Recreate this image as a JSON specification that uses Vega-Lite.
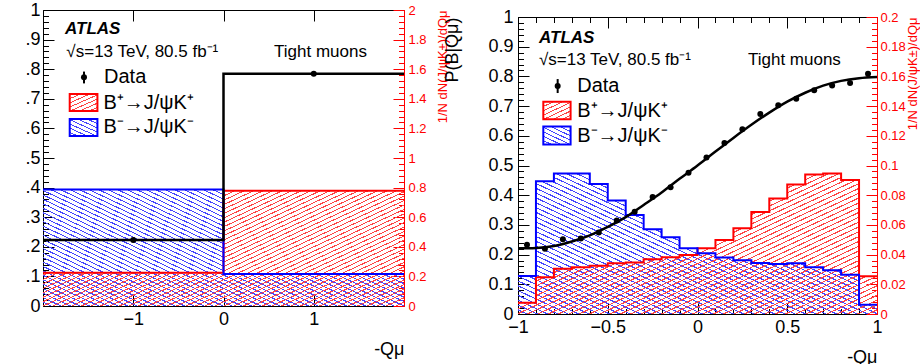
{
"$schema":"https://vega.github.io/schema/vega-lite/v6.json",
"padding":{"left":24,"top":1,"right":0,"bottom":0},
"background":"white",
"config":{
 "font":"Liberation Sans",
 "view":{"stroke":null},
 "axis":{"zindex":1,"grid":false,"domainColor":"black","domainWidth":1,"tickColor":"black","tickWidth":1,"labelFontSize":18,"labelColor":"black","labelOverlap":false,"labelFlush":false,"labelBound":false,"titleFontWeight":"normal","titleColor":"black","titleFontSize":18}
},
"datasets":{
 "leftBins":[
  {"lo":-2,"hi":0,"x":-1,"p":0.223,"bplus":0.224,"bminus":0.788},
  {"lo":0,"hi":2,"x":1,"p":0.785,"bplus":0.779,"bminus":0.216}
 ],
 "rightBins":[
  {"lo":-1,"hi":-0.9,"x":-0.95,"p":0.233,"bplus":0.0076,"bminus":0.0256},
  {"lo":-0.9,"hi":-0.8,"x":-0.85,"p":0.22,"bplus":0.0248,"bminus":0.0894},
  {"lo":-0.8,"hi":-0.7,"x":-0.75,"p":0.252,"bplus":0.0305,"bminus":0.0946},
  {"lo":-0.7,"hi":-0.6,"x":-0.65,"p":0.254,"bplus":0.0315,"bminus":0.0946},
  {"lo":-0.6,"hi":-0.5,"x":-0.55,"p":0.274,"bplus":0.0325,"bminus":0.0876},
  {"lo":-0.5,"hi":-0.4,"x":-0.45,"p":0.315,"bplus":0.0342,"bminus":0.0764},
  {"lo":-0.4,"hi":-0.3,"x":-0.35,"p":0.344,"bplus":0.0346,"bminus":0.0667},
  {"lo":-0.3,"hi":-0.2,"x":-0.25,"p":0.394,"bplus":0.0369,"bminus":0.0571},
  {"lo":-0.2,"hi":-0.1,"x":-0.15,"p":0.427,"bplus":0.0382,"bminus":0.0517},
  {"lo":-0.1,"hi":0,"x":-0.05,"p":0.476,"bplus":0.0398,"bminus":0.0443},
  {"lo":0,"hi":0.1,"x":0.05,"p":0.527,"bplus":0.0443,"bminus":0.0409},
  {"lo":0.1,"hi":0.2,"x":0.15,"p":0.576,"bplus":0.0499,"bminus":0.038},
  {"lo":0.2,"hi":0.3,"x":0.25,"p":0.622,"bplus":0.0578,"bminus":0.0362},
  {"lo":0.3,"hi":0.4,"x":0.35,"p":0.673,"bplus":0.0687,"bminus":0.0344},
  {"lo":0.4,"hi":0.5,"x":0.45,"p":0.703,"bplus":0.0777,"bminus":0.0337},
  {"lo":0.5,"hi":0.6,"x":0.55,"p":0.725,"bplus":0.0872,"bminus":0.0341},
  {"lo":0.6,"hi":0.7,"x":0.65,"p":0.753,"bplus":0.094,"bminus":0.0315},
  {"lo":0.7,"hi":0.8,"x":0.75,"p":0.769,"bplus":0.0946,"bminus":0.0295},
  {"lo":0.8,"hi":0.9,"x":0.85,"p":0.778,"bplus":0.0903,"bminus":0.0265},
  {"lo":0.9,"hi":1,"x":0.95,"p":0.809,"bplus":0.0254,"bminus":0.0062}
 ],
 "fit":[
  {"q":-1,"f":0.221},{"q":-0.9,"f":0.2225},{"q":-0.8,"f":0.229},{"q":-0.7,"f":0.244},{"q":-0.6,"f":0.265},{"q":-0.5,"f":0.293},{"q":-0.4,"f":0.326},{"q":-0.3,"f":0.367},{"q":-0.2,"f":0.409},{"q":-0.1,"f":0.455},{"q":0,"f":0.5},{"q":0.1,"f":0.547},{"q":0.2,"f":0.593},{"q":0.3,"f":0.637},{"q":0.4,"f":0.678},{"q":0.5,"f":0.715},{"q":0.6,"f":0.745},{"q":0.7,"f":0.769},{"q":0.8,"f":0.785},{"q":0.9,"f":0.794},{"q":1,"f":0.798}
 ]
},
"spacing":114,
"bounds":"flush",
"hconcat":[
 {
  "width":361,"height":296,
  "resolve":{"scale":{"y":"independent"},"axis":{"x":"independent","y":"independent"}},
  "layer":[
   {
    "data":{"name":"leftBins"},
    "transform":[{"fold":["lo","hi"],"as":["edge","ex"]}],
    "resolve":{"axis":{"x":"independent","y":"independent"}},
    "layer":[
     {"mark":{"type":"area","opacity":1,"fill":{"gradient":"linear","x1":1,"y1":0,"x2":-0.1453,"y2":0.7892,"stops":[{"offset":0,"color":"#44f"},{"offset":0.00390625,"color":"#44f"},{"offset":0.00390625,"color":"#44f0"},{"offset":0.015625,"color":"#44f0"},{"offset":0.015625,"color":"#44f"},{"offset":0.01953125,"color":"#44f"},{"offset":0.01953125,"color":"#44f0"},{"offset":0.03125,"color":"#44f0"},{"offset":0.03125,"color":"#44f"},{"offset":0.03515625,"color":"#44f"},{"offset":0.03515625,"color":"#44f0"},{"offset":0.046875,"color":"#44f0"},{"offset":0.046875,"color":"#44f"},{"offset":0.05078125,"color":"#44f"},{"offset":0.05078125,"color":"#44f0"},{"offset":0.0625,"color":"#44f0"},{"offset":0.0625,"color":"#44f"},{"offset":0.06640625,"color":"#44f"},{"offset":0.06640625,"color":"#44f0"},{"offset":0.078125,"color":"#44f0"},{"offset":0.078125,"color":"#44f"},{"offset":0.08203125,"color":"#44f"},{"offset":0.08203125,"color":"#44f0"},{"offset":0.09375,"color":"#44f0"},{"offset":0.09375,"color":"#44f"},{"offset":0.09765625,"color":"#44f"},{"offset":0.09765625,"color":"#44f0"},{"offset":0.109375,"color":"#44f0"},{"offset":0.109375,"color":"#44f"},{"offset":0.11328125,"color":"#44f"},{"offset":0.11328125,"color":"#44f0"},{"offset":0.125,"color":"#44f0"},{"offset":0.125,"color":"#44f"},{"offset":0.12890625,"color":"#44f"},{"offset":0.12890625,"color":"#44f0"},{"offset":0.140625,"color":"#44f0"},{"offset":0.140625,"color":"#44f"},{"offset":0.14453125,"color":"#44f"},{"offset":0.14453125,"color":"#44f0"},{"offset":0.15625,"color":"#44f0"},{"offset":0.15625,"color":"#44f"},{"offset":0.16015625,"color":"#44f"},{"offset":0.16015625,"color":"#44f0"},{"offset":0.171875,"color":"#44f0"},{"offset":0.171875,"color":"#44f"},{"offset":0.17578125,"color":"#44f"},{"offset":0.17578125,"color":"#44f0"},{"offset":0.1875,"color":"#44f0"},{"offset":0.1875,"color":"#44f"},{"offset":0.19140625,"color":"#44f"},{"offset":0.19140625,"color":"#44f0"},{"offset":0.203125,"color":"#44f0"},{"offset":0.203125,"color":"#44f"},{"offset":0.20703125,"color":"#44f"},{"offset":0.20703125,"color":"#44f0"},{"offset":0.21875,"color":"#44f0"},{"offset":0.21875,"color":"#44f"},{"offset":0.22265625,"color":"#44f"},{"offset":0.22265625,"color":"#44f0"},{"offset":0.234375,"color":"#44f0"},{"offset":0.234375,"color":"#44f"},{"offset":0.23828125,"color":"#44f"},{"offset":0.23828125,"color":"#44f0"},{"offset":0.25,"color":"#44f0"},{"offset":0.25,"color":"#44f"},{"offset":0.25390625,"color":"#44f"},{"offset":0.25390625,"color":"#44f0"},{"offset":0.265625,"color":"#44f0"},{"offset":0.265625,"color":"#44f"},{"offset":0.26953125,"color":"#44f"},{"offset":0.26953125,"color":"#44f0"},{"offset":0.28125,"color":"#44f0"},{"offset":0.28125,"color":"#44f"},{"offset":0.28515625,"color":"#44f"},{"offset":0.28515625,"color":"#44f0"},{"offset":0.296875,"color":"#44f0"},{"offset":0.296875,"color":"#44f"},{"offset":0.30078125,"color":"#44f"},{"offset":0.30078125,"color":"#44f0"},{"offset":0.3125,"color":"#44f0"},{"offset":0.3125,"color":"#44f"},{"offset":0.31640625,"color":"#44f"},{"offset":0.31640625,"color":"#44f0"},{"offset":0.328125,"color":"#44f0"},{"offset":0.328125,"color":"#44f"},{"offset":0.33203125,"color":"#44f"},{"offset":0.33203125,"color":"#44f0"},{"offset":0.34375,"color":"#44f0"},{"offset":0.34375,"color":"#44f"},{"offset":0.34765625,"color":"#44f"},{"offset":0.34765625,"color":"#44f0"},{"offset":0.359375,"color":"#44f0"},{"offset":0.359375,"color":"#44f"},{"offset":0.36328125,"color":"#44f"},{"offset":0.36328125,"color":"#44f0"},{"offset":0.375,"color":"#44f0"},{"offset":0.375,"color":"#44f"},{"offset":0.37890625,"color":"#44f"},{"offset":0.37890625,"color":"#44f0"},{"offset":0.390625,"color":"#44f0"},{"offset":0.390625,"color":"#44f"},{"offset":0.39453125,"color":"#44f"},{"offset":0.39453125,"color":"#44f0"},{"offset":0.40625,"color":"#44f0"},{"offset":0.40625,"color":"#44f"},{"offset":0.41015625,"color":"#44f"},{"offset":0.41015625,"color":"#44f0"},{"offset":0.421875,"color":"#44f0"},{"offset":0.421875,"color":"#44f"},{"offset":0.42578125,"color":"#44f"},{"offset":0.42578125,"color":"#44f0"},{"offset":0.4375,"color":"#44f0"},{"offset":0.4375,"color":"#44f"},{"offset":0.44140625,"color":"#44f"},{"offset":0.44140625,"color":"#44f0"},{"offset":0.453125,"color":"#44f0"},{"offset":0.453125,"color":"#44f"},{"offset":0.45703125,"color":"#44f"},{"offset":0.45703125,"color":"#44f0"},{"offset":0.46875,"color":"#44f0"},{"offset":0.46875,"color":"#44f"},{"offset":0.47265625,"color":"#44f"},{"offset":0.47265625,"color":"#44f0"},{"offset":0.484375,"color":"#44f0"},{"offset":0.484375,"color":"#44f"},{"offset":0.48828125,"color":"#44f"},{"offset":0.48828125,"color":"#44f0"},{"offset":0.5,"color":"#44f0"},{"offset":0.5,"color":"#44f"},{"offset":0.50390625,"color":"#44f"},{"offset":0.50390625,"color":"#44f0"},{"offset":0.515625,"color":"#44f0"},{"offset":0.515625,"color":"#44f"},{"offset":0.51953125,"color":"#44f"},{"offset":0.51953125,"color":"#44f0"},{"offset":0.53125,"color":"#44f0"},{"offset":0.53125,"color":"#44f"},{"offset":0.53515625,"color":"#44f"},{"offset":0.53515625,"color":"#44f0"},{"offset":0.546875,"color":"#44f0"},{"offset":0.546875,"color":"#44f"},{"offset":0.55078125,"color":"#44f"},{"offset":0.55078125,"color":"#44f0"},{"offset":0.5625,"color":"#44f0"},{"offset":0.5625,"color":"#44f"},{"offset":0.56640625,"color":"#44f"},{"offset":0.56640625,"color":"#44f0"},{"offset":0.578125,"color":"#44f0"},{"offset":0.578125,"color":"#44f"},{"offset":0.58203125,"color":"#44f"},{"offset":0.58203125,"color":"#44f0"},{"offset":0.59375,"color":"#44f0"},{"offset":0.59375,"color":"#44f"},{"offset":0.59765625,"color":"#44f"},{"offset":0.59765625,"color":"#44f0"},{"offset":0.609375,"color":"#44f0"},{"offset":0.609375,"color":"#44f"},{"offset":0.61328125,"color":"#44f"},{"offset":0.61328125,"color":"#44f0"},{"offset":0.625,"color":"#44f0"},{"offset":0.625,"color":"#44f"},{"offset":0.62890625,"color":"#44f"},{"offset":0.62890625,"color":"#44f0"},{"offset":0.640625,"color":"#44f0"},{"offset":0.640625,"color":"#44f"},{"offset":0.64453125,"color":"#44f"},{"offset":0.64453125,"color":"#44f0"},{"offset":0.65625,"color":"#44f0"},{"offset":0.65625,"color":"#44f"},{"offset":0.66015625,"color":"#44f"},{"offset":0.66015625,"color":"#44f0"},{"offset":0.671875,"color":"#44f0"},{"offset":0.671875,"color":"#44f"},{"offset":0.67578125,"color":"#44f"},{"offset":0.67578125,"color":"#44f0"},{"offset":0.6875,"color":"#44f0"},{"offset":0.6875,"color":"#44f"},{"offset":0.69140625,"color":"#44f"},{"offset":0.69140625,"color":"#44f0"},{"offset":0.703125,"color":"#44f0"},{"offset":0.703125,"color":"#44f"},{"offset":0.70703125,"color":"#44f"},{"offset":0.70703125,"color":"#44f0"},{"offset":0.71875,"color":"#44f0"},{"offset":0.71875,"color":"#44f"},{"offset":0.72265625,"color":"#44f"},{"offset":0.72265625,"color":"#44f0"},{"offset":0.734375,"color":"#44f0"},{"offset":0.734375,"color":"#44f"},{"offset":0.73828125,"color":"#44f"},{"offset":0.73828125,"color":"#44f0"},{"offset":0.75,"color":"#44f0"},{"offset":0.75,"color":"#44f"},{"offset":0.75390625,"color":"#44f"},{"offset":0.75390625,"color":"#44f0"},{"offset":0.765625,"color":"#44f0"},{"offset":0.765625,"color":"#44f"},{"offset":0.76953125,"color":"#44f"},{"offset":0.76953125,"color":"#44f0"},{"offset":0.78125,"color":"#44f0"},{"offset":0.78125,"color":"#44f"},{"offset":0.78515625,"color":"#44f"},{"offset":0.78515625,"color":"#44f0"},{"offset":0.796875,"color":"#44f0"},{"offset":0.796875,"color":"#44f"},{"offset":0.80078125,"color":"#44f"},{"offset":0.80078125,"color":"#44f0"},{"offset":0.8125,"color":"#44f0"},{"offset":0.8125,"color":"#44f"},{"offset":0.81640625,"color":"#44f"},{"offset":0.81640625,"color":"#44f0"},{"offset":0.828125,"color":"#44f0"},{"offset":0.828125,"color":"#44f"},{"offset":0.83203125,"color":"#44f"},{"offset":0.83203125,"color":"#44f0"},{"offset":0.84375,"color":"#44f0"},{"offset":0.84375,"color":"#44f"},{"offset":0.84765625,"color":"#44f"},{"offset":0.84765625,"color":"#44f0"},{"offset":0.859375,"color":"#44f0"},{"offset":0.859375,"color":"#44f"},{"offset":0.86328125,"color":"#44f"},{"offset":0.86328125,"color":"#44f0"},{"offset":0.875,"color":"#44f0"},{"offset":0.875,"color":"#44f"},{"offset":0.87890625,"color":"#44f"},{"offset":0.87890625,"color":"#44f0"},{"offset":0.890625,"color":"#44f0"},{"offset":0.890625,"color":"#44f"},{"offset":0.89453125,"color":"#44f"},{"offset":0.89453125,"color":"#44f0"},{"offset":0.90625,"color":"#44f0"},{"offset":0.90625,"color":"#44f"},{"offset":0.91015625,"color":"#44f"},{"offset":0.91015625,"color":"#44f0"},{"offset":0.921875,"color":"#44f0"},{"offset":0.921875,"color":"#44f"},{"offset":0.92578125,"color":"#44f"},{"offset":0.92578125,"color":"#44f0"},{"offset":0.9375,"color":"#44f0"},{"offset":0.9375,"color":"#44f"},{"offset":0.94140625,"color":"#44f"},{"offset":0.94140625,"color":"#44f0"},{"offset":0.953125,"color":"#44f0"},{"offset":0.953125,"color":"#44f"},{"offset":0.95703125,"color":"#44f"},{"offset":0.95703125,"color":"#44f0"},{"offset":0.96875,"color":"#44f0"},{"offset":0.96875,"color":"#44f"},{"offset":0.97265625,"color":"#44f"},{"offset":0.97265625,"color":"#44f0"},{"offset":0.984375,"color":"#44f0"},{"offset":0.984375,"color":"#44f"},{"offset":0.98828125,"color":"#44f"},{"offset":0.98828125,"color":"#44f0"},{"offset":1,"color":"#44f0"}]}},
      "encoding":{
       "x":{"field":"ex","type":"quantitative","scale":{"domain":[-2,2],"nice":false,"zero":false},
            "axis":{"orient":"top","values":[-1,0,1],"labels":false,"title":null,"tickSize":-11}},
       "y":{"field":"bminus","type":"quantitative","stack":null,"scale":{"domain":[0,2],"nice":false},
            "axis":{"orient":"right","values":[0,0.2,0.4,0.6,0.8,1,1.2,1.4,1.6,1.8,2],
             "title":"1/N dN(J/ψK±)/dQμ","titleAngle":-90,"titleAnchor":"end","titleAlign":"right","titleBaseline":"top","titleFontSize":13,"titleColor":"red","titlePadding":10,
             "labelColor":"red","labelFontSize":13,"labelPadding":15,"domainColor":"red","tickColor":"red","tickSize":-11,
             "labelExpr":"format(datum.value,'~g')"}}
      }},
     {"mark":{"type":"area","opacity":1,"fill":{"gradient":"linear","x1":0,"y1":0,"x2":1.1453,"y2":0.7892,"stops":[{"offset":0,"color":"#f44"},{"offset":0.00390625,"color":"#f44"},{"offset":0.00390625,"color":"#f440"},{"offset":0.015625,"color":"#f440"},{"offset":0.015625,"color":"#f44"},{"offset":0.01953125,"color":"#f44"},{"offset":0.01953125,"color":"#f440"},{"offset":0.03125,"color":"#f440"},{"offset":0.03125,"color":"#f44"},{"offset":0.03515625,"color":"#f44"},{"offset":0.03515625,"color":"#f440"},{"offset":0.046875,"color":"#f440"},{"offset":0.046875,"color":"#f44"},{"offset":0.05078125,"color":"#f44"},{"offset":0.05078125,"color":"#f440"},{"offset":0.0625,"color":"#f440"},{"offset":0.0625,"color":"#f44"},{"offset":0.06640625,"color":"#f44"},{"offset":0.06640625,"color":"#f440"},{"offset":0.078125,"color":"#f440"},{"offset":0.078125,"color":"#f44"},{"offset":0.08203125,"color":"#f44"},{"offset":0.08203125,"color":"#f440"},{"offset":0.09375,"color":"#f440"},{"offset":0.09375,"color":"#f44"},{"offset":0.09765625,"color":"#f44"},{"offset":0.09765625,"color":"#f440"},{"offset":0.109375,"color":"#f440"},{"offset":0.109375,"color":"#f44"},{"offset":0.11328125,"color":"#f44"},{"offset":0.11328125,"color":"#f440"},{"offset":0.125,"color":"#f440"},{"offset":0.125,"color":"#f44"},{"offset":0.12890625,"color":"#f44"},{"offset":0.12890625,"color":"#f440"},{"offset":0.140625,"color":"#f440"},{"offset":0.140625,"color":"#f44"},{"offset":0.14453125,"color":"#f44"},{"offset":0.14453125,"color":"#f440"},{"offset":0.15625,"color":"#f440"},{"offset":0.15625,"color":"#f44"},{"offset":0.16015625,"color":"#f44"},{"offset":0.16015625,"color":"#f440"},{"offset":0.171875,"color":"#f440"},{"offset":0.171875,"color":"#f44"},{"offset":0.17578125,"color":"#f44"},{"offset":0.17578125,"color":"#f440"},{"offset":0.1875,"color":"#f440"},{"offset":0.1875,"color":"#f44"},{"offset":0.19140625,"color":"#f44"},{"offset":0.19140625,"color":"#f440"},{"offset":0.203125,"color":"#f440"},{"offset":0.203125,"color":"#f44"},{"offset":0.20703125,"color":"#f44"},{"offset":0.20703125,"color":"#f440"},{"offset":0.21875,"color":"#f440"},{"offset":0.21875,"color":"#f44"},{"offset":0.22265625,"color":"#f44"},{"offset":0.22265625,"color":"#f440"},{"offset":0.234375,"color":"#f440"},{"offset":0.234375,"color":"#f44"},{"offset":0.23828125,"color":"#f44"},{"offset":0.23828125,"color":"#f440"},{"offset":0.25,"color":"#f440"},{"offset":0.25,"color":"#f44"},{"offset":0.25390625,"color":"#f44"},{"offset":0.25390625,"color":"#f440"},{"offset":0.265625,"color":"#f440"},{"offset":0.265625,"color":"#f44"},{"offset":0.26953125,"color":"#f44"},{"offset":0.26953125,"color":"#f440"},{"offset":0.28125,"color":"#f440"},{"offset":0.28125,"color":"#f44"},{"offset":0.28515625,"color":"#f44"},{"offset":0.28515625,"color":"#f440"},{"offset":0.296875,"color":"#f440"},{"offset":0.296875,"color":"#f44"},{"offset":0.30078125,"color":"#f44"},{"offset":0.30078125,"color":"#f440"},{"offset":0.3125,"color":"#f440"},{"offset":0.3125,"color":"#f44"},{"offset":0.31640625,"color":"#f44"},{"offset":0.31640625,"color":"#f440"},{"offset":0.328125,"color":"#f440"},{"offset":0.328125,"color":"#f44"},{"offset":0.33203125,"color":"#f44"},{"offset":0.33203125,"color":"#f440"},{"offset":0.34375,"color":"#f440"},{"offset":0.34375,"color":"#f44"},{"offset":0.34765625,"color":"#f44"},{"offset":0.34765625,"color":"#f440"},{"offset":0.359375,"color":"#f440"},{"offset":0.359375,"color":"#f44"},{"offset":0.36328125,"color":"#f44"},{"offset":0.36328125,"color":"#f440"},{"offset":0.375,"color":"#f440"},{"offset":0.375,"color":"#f44"},{"offset":0.37890625,"color":"#f44"},{"offset":0.37890625,"color":"#f440"},{"offset":0.390625,"color":"#f440"},{"offset":0.390625,"color":"#f44"},{"offset":0.39453125,"color":"#f44"},{"offset":0.39453125,"color":"#f440"},{"offset":0.40625,"color":"#f440"},{"offset":0.40625,"color":"#f44"},{"offset":0.41015625,"color":"#f44"},{"offset":0.41015625,"color":"#f440"},{"offset":0.421875,"color":"#f440"},{"offset":0.421875,"color":"#f44"},{"offset":0.42578125,"color":"#f44"},{"offset":0.42578125,"color":"#f440"},{"offset":0.4375,"color":"#f440"},{"offset":0.4375,"color":"#f44"},{"offset":0.44140625,"color":"#f44"},{"offset":0.44140625,"color":"#f440"},{"offset":0.453125,"color":"#f440"},{"offset":0.453125,"color":"#f44"},{"offset":0.45703125,"color":"#f44"},{"offset":0.45703125,"color":"#f440"},{"offset":0.46875,"color":"#f440"},{"offset":0.46875,"color":"#f44"},{"offset":0.47265625,"color":"#f44"},{"offset":0.47265625,"color":"#f440"},{"offset":0.484375,"color":"#f440"},{"offset":0.484375,"color":"#f44"},{"offset":0.48828125,"color":"#f44"},{"offset":0.48828125,"color":"#f440"},{"offset":0.5,"color":"#f440"},{"offset":0.5,"color":"#f44"},{"offset":0.50390625,"color":"#f44"},{"offset":0.50390625,"color":"#f440"},{"offset":0.515625,"color":"#f440"},{"offset":0.515625,"color":"#f44"},{"offset":0.51953125,"color":"#f44"},{"offset":0.51953125,"color":"#f440"},{"offset":0.53125,"color":"#f440"},{"offset":0.53125,"color":"#f44"},{"offset":0.53515625,"color":"#f44"},{"offset":0.53515625,"color":"#f440"},{"offset":0.546875,"color":"#f440"},{"offset":0.546875,"color":"#f44"},{"offset":0.55078125,"color":"#f44"},{"offset":0.55078125,"color":"#f440"},{"offset":0.5625,"color":"#f440"},{"offset":0.5625,"color":"#f44"},{"offset":0.56640625,"color":"#f44"},{"offset":0.56640625,"color":"#f440"},{"offset":0.578125,"color":"#f440"},{"offset":0.578125,"color":"#f44"},{"offset":0.58203125,"color":"#f44"},{"offset":0.58203125,"color":"#f440"},{"offset":0.59375,"color":"#f440"},{"offset":0.59375,"color":"#f44"},{"offset":0.59765625,"color":"#f44"},{"offset":0.59765625,"color":"#f440"},{"offset":0.609375,"color":"#f440"},{"offset":0.609375,"color":"#f44"},{"offset":0.61328125,"color":"#f44"},{"offset":0.61328125,"color":"#f440"},{"offset":0.625,"color":"#f440"},{"offset":0.625,"color":"#f44"},{"offset":0.62890625,"color":"#f44"},{"offset":0.62890625,"color":"#f440"},{"offset":0.640625,"color":"#f440"},{"offset":0.640625,"color":"#f44"},{"offset":0.64453125,"color":"#f44"},{"offset":0.64453125,"color":"#f440"},{"offset":0.65625,"color":"#f440"},{"offset":0.65625,"color":"#f44"},{"offset":0.66015625,"color":"#f44"},{"offset":0.66015625,"color":"#f440"},{"offset":0.671875,"color":"#f440"},{"offset":0.671875,"color":"#f44"},{"offset":0.67578125,"color":"#f44"},{"offset":0.67578125,"color":"#f440"},{"offset":0.6875,"color":"#f440"},{"offset":0.6875,"color":"#f44"},{"offset":0.69140625,"color":"#f44"},{"offset":0.69140625,"color":"#f440"},{"offset":0.703125,"color":"#f440"},{"offset":0.703125,"color":"#f44"},{"offset":0.70703125,"color":"#f44"},{"offset":0.70703125,"color":"#f440"},{"offset":0.71875,"color":"#f440"},{"offset":0.71875,"color":"#f44"},{"offset":0.72265625,"color":"#f44"},{"offset":0.72265625,"color":"#f440"},{"offset":0.734375,"color":"#f440"},{"offset":0.734375,"color":"#f44"},{"offset":0.73828125,"color":"#f44"},{"offset":0.73828125,"color":"#f440"},{"offset":0.75,"color":"#f440"},{"offset":0.75,"color":"#f44"},{"offset":0.75390625,"color":"#f44"},{"offset":0.75390625,"color":"#f440"},{"offset":0.765625,"color":"#f440"},{"offset":0.765625,"color":"#f44"},{"offset":0.76953125,"color":"#f44"},{"offset":0.76953125,"color":"#f440"},{"offset":0.78125,"color":"#f440"},{"offset":0.78125,"color":"#f44"},{"offset":0.78515625,"color":"#f44"},{"offset":0.78515625,"color":"#f440"},{"offset":0.796875,"color":"#f440"},{"offset":0.796875,"color":"#f44"},{"offset":0.80078125,"color":"#f44"},{"offset":0.80078125,"color":"#f440"},{"offset":0.8125,"color":"#f440"},{"offset":0.8125,"color":"#f44"},{"offset":0.81640625,"color":"#f44"},{"offset":0.81640625,"color":"#f440"},{"offset":0.828125,"color":"#f440"},{"offset":0.828125,"color":"#f44"},{"offset":0.83203125,"color":"#f44"},{"offset":0.83203125,"color":"#f440"},{"offset":0.84375,"color":"#f440"},{"offset":0.84375,"color":"#f44"},{"offset":0.84765625,"color":"#f44"},{"offset":0.84765625,"color":"#f440"},{"offset":0.859375,"color":"#f440"},{"offset":0.859375,"color":"#f44"},{"offset":0.86328125,"color":"#f44"},{"offset":0.86328125,"color":"#f440"},{"offset":0.875,"color":"#f440"},{"offset":0.875,"color":"#f44"},{"offset":0.87890625,"color":"#f44"},{"offset":0.87890625,"color":"#f440"},{"offset":0.890625,"color":"#f440"},{"offset":0.890625,"color":"#f44"},{"offset":0.89453125,"color":"#f44"},{"offset":0.89453125,"color":"#f440"},{"offset":0.90625,"color":"#f440"},{"offset":0.90625,"color":"#f44"},{"offset":0.91015625,"color":"#f44"},{"offset":0.91015625,"color":"#f440"},{"offset":0.921875,"color":"#f440"},{"offset":0.921875,"color":"#f44"},{"offset":0.92578125,"color":"#f44"},{"offset":0.92578125,"color":"#f440"},{"offset":0.9375,"color":"#f440"},{"offset":0.9375,"color":"#f44"},{"offset":0.94140625,"color":"#f44"},{"offset":0.94140625,"color":"#f440"},{"offset":0.953125,"color":"#f440"},{"offset":0.953125,"color":"#f44"},{"offset":0.95703125,"color":"#f44"},{"offset":0.95703125,"color":"#f440"},{"offset":0.96875,"color":"#f440"},{"offset":0.96875,"color":"#f44"},{"offset":0.97265625,"color":"#f44"},{"offset":0.97265625,"color":"#f440"},{"offset":0.984375,"color":"#f440"},{"offset":0.984375,"color":"#f44"},{"offset":0.98828125,"color":"#f44"},{"offset":0.98828125,"color":"#f440"},{"offset":1,"color":"#f440"}]}},
      "encoding":{"x":{"field":"ex","type":"quantitative","axis":null},
       "y":{"field":"bplus","type":"quantitative","stack":null,
            "axis":{"orient":"right","values":[0,0.04,0.08,0.12,0.16,0.2,0.24,0.28,0.32,0.36,0.4,0.44,0.48,0.52,0.56,0.6,0.64,0.68,0.72,0.76,0.8,0.84,0.88,0.92,0.96,1,1.04,1.08,1.12,1.16,1.2,1.24,1.28,1.32,1.36,1.4,1.44,1.48,1.52,1.56,1.6,1.64,1.68,1.72,1.76,1.8,1.84,1.88,1.92,1.96,2],"labels":false,"title":null,"domain":false,"tickColor":"red","tickSize":-5.5}}}},
     {"mark":{"type":"line","stroke":"red","strokeWidth":2},
      "encoding":{"x":{"field":"ex","type":"quantitative","axis":null},"y":{"field":"bplus","type":"quantitative","axis":null}}},
     {"mark":{"type":"line","stroke":"blue","strokeWidth":2},
      "encoding":{"x":{"field":"ex","type":"quantitative","axis":null},"y":{"field":"bminus","type":"quantitative","axis":null}}}
    ]
   },
   {
    "resolve":{"axis":{"x":"independent","y":"independent"}},
    "layer":[
     {"data":{"name":"leftBins"},"transform":[{"fold":["lo","hi"],"as":["edge","ex"]}],
      "mark":{"type":"line","color":"black","strokeWidth":2.5},
      "encoding":{
       "x":{"field":"ex","type":"quantitative","scale":{"domain":[-2,2],"nice":false,"zero":false},
            "axis":{"orient":"bottom","values":[-1,0,1],"title":"-Qμ","titleAnchor":"end","titleAlign":"right","titlePadding":12,"labelPadding":15,"tickSize":-11,
             "labelExpr":"format(datum.value,'~g')"}},
       "y":{"field":"p","type":"quantitative","scale":{"domain":[0,1],"nice":false},
            "axis":{"orient":"left","values":[0,0.1,0.2,0.3,0.4,0.5,0.6,0.7,0.8,0.9,1],
             "title":null,"labelPadding":14,"tickSize":-11,
             "labelExpr":"replace(format(datum.value,'~g'),'0.','.')"}}
      }},
     {"data":{"name":"leftBins"},"mark":{"type":"circle","color":"black","size":36,"opacity":1},
      "encoding":{"x":{"field":"x","type":"quantitative","axis":null},
       "y":{"field":"p","type":"quantitative",
            "axis":{"orient":"left","values":[0,0.02,0.04,0.06,0.08,0.1,0.12,0.14,0.16,0.18,0.2,0.22,0.24,0.26,0.28,0.3,0.32,0.34,0.36,0.38,0.4,0.42,0.44,0.46,0.48,0.5,0.52,0.54,0.56,0.58,0.6,0.62,0.64,0.66,0.68,0.7,0.72,0.74,0.76,0.78,0.8,0.82,0.84,0.86,0.88,0.9,0.92,0.94,0.96,0.98,1],"labels":false,"title":null,"domain":false,"tickSize":-5.5}}}},
     {"data":{"values":[{"t":"ATLAS"}]},"mark":{"type":"text","align":"left","baseline":"alphabetic","fontSize":17,"fontWeight":"bold","fontStyle":"italic"},
      "encoding":{"x":{"datum":-1.756,"axis":null},"y":{"datum":0.918,"axis":null},"text":{"field":"t"}}},
     {"data":{"values":[{"t":"√s=13 TeV, 80.5 fb⁻¹"}]},"mark":{"type":"text","align":"left","baseline":"alphabetic","fontSize":17},
      "encoding":{"x":{"datum":-1.741,"axis":null},"y":{"datum":0.842,"axis":null},"text":{"field":"t"}}},
     {"data":{"values":[{"t":"Tight muons"}]},"mark":{"type":"text","align":"left","baseline":"alphabetic","fontSize":17},
      "encoding":{"x":{"datum":0.56,"axis":null},"y":{"datum":0.842,"axis":null},"text":{"field":"t"}}},
     {"data":{"values":[{"t":"Data"}]},
      "layer":[
       {"mark":{"type":"rule","color":"black","strokeWidth":2},"encoding":{"x":{"datum":-1.546,"axis":null},"y":{"datum":0.792,"axis":null},"y2":{"datum":0.752}}},
       {"mark":{"type":"circle","color":"black","size":36,"opacity":1},"encoding":{"x":{"datum":-1.546,"axis":null},"y":{"datum":0.773,"axis":null}}},
       {"mark":{"type":"text","align":"left","baseline":"alphabetic","fontSize":20},"encoding":{"x":{"datum":-1.324,"axis":null},"y":{"datum":0.752,"axis":null},"text":{"field":"t"}}}
      ]},
     {"data":{"values":[{"t":"B⁺→J/ψK⁺"}]},
      "layer":[
       {"mark":{"type":"rect","stroke":"red","strokeWidth":2,"fill":{"gradient":"linear","x1":0,"y1":0,"x2":0.8218,"y2":1.1297,"stops":[{"offset":0,"color":"#f44"},{"offset":0.0357,"color":"#f44"},{"offset":0.0357,"color":"#f440"},{"offset":0.1429,"color":"#f440"},{"offset":0.1429,"color":"#f44"},{"offset":0.1786,"color":"#f44"},{"offset":0.1786,"color":"#f440"},{"offset":0.2857,"color":"#f440"},{"offset":0.2857,"color":"#f44"},{"offset":0.3214,"color":"#f44"},{"offset":0.3214,"color":"#f440"},{"offset":0.4286,"color":"#f440"},{"offset":0.4286,"color":"#f44"},{"offset":0.4643,"color":"#f44"},{"offset":0.4643,"color":"#f440"},{"offset":0.5714,"color":"#f440"},{"offset":0.5714,"color":"#f44"},{"offset":0.6071,"color":"#f44"},{"offset":0.6071,"color":"#f440"},{"offset":0.7143,"color":"#f440"},{"offset":0.7143,"color":"#f44"},{"offset":0.75,"color":"#f44"},{"offset":0.75,"color":"#f440"},{"offset":0.8571,"color":"#f440"},{"offset":0.8571,"color":"#f44"},{"offset":0.8929,"color":"#f44"},{"offset":0.8929,"color":"#f440"},{"offset":1,"color":"#f440"}]}},
        "encoding":{"x":{"datum":-1.704,"axis":null},"x2":{"datum":-1.397},"y":{"datum":0.716,"axis":null},"y2":{"datum":0.659}}},
       {"mark":{"type":"text","align":"left","baseline":"alphabetic","fontSize":20},"encoding":{"x":{"datum":-1.331,"axis":null},"y":{"datum":0.666,"axis":null},"text":{"field":"t"}}}
      ]},
     {"data":{"values":[{"t":"B⁻→J/ψK⁻"}]},
      "layer":[
       {"mark":{"type":"rect","stroke":"blue","strokeWidth":2,"fill":{"gradient":"linear","x1":1,"y1":0,"x2":0.1782,"y2":1.1297,"stops":[{"offset":0,"color":"#44f"},{"offset":0.0357,"color":"#44f"},{"offset":0.0357,"color":"#44f0"},{"offset":0.1429,"color":"#44f0"},{"offset":0.1429,"color":"#44f"},{"offset":0.1786,"color":"#44f"},{"offset":0.1786,"color":"#44f0"},{"offset":0.2857,"color":"#44f0"},{"offset":0.2857,"color":"#44f"},{"offset":0.3214,"color":"#44f"},{"offset":0.3214,"color":"#44f0"},{"offset":0.4286,"color":"#44f0"},{"offset":0.4286,"color":"#44f"},{"offset":0.4643,"color":"#44f"},{"offset":0.4643,"color":"#44f0"},{"offset":0.5714,"color":"#44f0"},{"offset":0.5714,"color":"#44f"},{"offset":0.6071,"color":"#44f"},{"offset":0.6071,"color":"#44f0"},{"offset":0.7143,"color":"#44f0"},{"offset":0.7143,"color":"#44f"},{"offset":0.75,"color":"#44f"},{"offset":0.75,"color":"#44f0"},{"offset":0.8571,"color":"#44f0"},{"offset":0.8571,"color":"#44f"},{"offset":0.8929,"color":"#44f"},{"offset":0.8929,"color":"#44f0"},{"offset":1,"color":"#44f0"}]}},
        "encoding":{"x":{"datum":-1.704,"axis":null},"x2":{"datum":-1.397},"y":{"datum":0.632,"axis":null},"y2":{"datum":0.574}}},
       {"mark":{"type":"text","align":"left","baseline":"alphabetic","fontSize":20},"encoding":{"x":{"datum":-1.331,"axis":null},"y":{"datum":0.583,"axis":null},"text":{"field":"t"}}}
      ]}
    ]
   }
  ]
 },
 {
  "spacing":6,
  "bounds":"flush",
  "vconcat":[
   {"width":1,"height":1,"data":{"values":[{}]},"mark":{"type":"point","opacity":0}},
   {
    "width":359,"height":297,
    "resolve":{"scale":{"y":"independent"},"axis":{"x":"independent","y":"independent"}},
    "layer":[
     {
      "data":{"name":"rightBins"},
      "transform":[{"fold":["lo","hi"],"as":["edge","ex"]}],
      "resolve":{"axis":{"x":"independent","y":"independent"}},
      "layer":[
       {"mark":{"type":"area","opacity":1,"fill":{"gradient":"linear","x1":1,"y1":0,"x2":-0.0792,"y2":0.9057,"stops":[{"offset":0,"color":"#44f"},{"offset":0.00390625,"color":"#44f"},{"offset":0.00390625,"color":"#44f0"},{"offset":0.015625,"color":"#44f0"},{"offset":0.015625,"color":"#44f"},{"offset":0.01953125,"color":"#44f"},{"offset":0.01953125,"color":"#44f0"},{"offset":0.03125,"color":"#44f0"},{"offset":0.03125,"color":"#44f"},{"offset":0.03515625,"color":"#44f"},{"offset":0.03515625,"color":"#44f0"},{"offset":0.046875,"color":"#44f0"},{"offset":0.046875,"color":"#44f"},{"offset":0.05078125,"color":"#44f"},{"offset":0.05078125,"color":"#44f0"},{"offset":0.0625,"color":"#44f0"},{"offset":0.0625,"color":"#44f"},{"offset":0.06640625,"color":"#44f"},{"offset":0.06640625,"color":"#44f0"},{"offset":0.078125,"color":"#44f0"},{"offset":0.078125,"color":"#44f"},{"offset":0.08203125,"color":"#44f"},{"offset":0.08203125,"color":"#44f0"},{"offset":0.09375,"color":"#44f0"},{"offset":0.09375,"color":"#44f"},{"offset":0.09765625,"color":"#44f"},{"offset":0.09765625,"color":"#44f0"},{"offset":0.109375,"color":"#44f0"},{"offset":0.109375,"color":"#44f"},{"offset":0.11328125,"color":"#44f"},{"offset":0.11328125,"color":"#44f0"},{"offset":0.125,"color":"#44f0"},{"offset":0.125,"color":"#44f"},{"offset":0.12890625,"color":"#44f"},{"offset":0.12890625,"color":"#44f0"},{"offset":0.140625,"color":"#44f0"},{"offset":0.140625,"color":"#44f"},{"offset":0.14453125,"color":"#44f"},{"offset":0.14453125,"color":"#44f0"},{"offset":0.15625,"color":"#44f0"},{"offset":0.15625,"color":"#44f"},{"offset":0.16015625,"color":"#44f"},{"offset":0.16015625,"color":"#44f0"},{"offset":0.171875,"color":"#44f0"},{"offset":0.171875,"color":"#44f"},{"offset":0.17578125,"color":"#44f"},{"offset":0.17578125,"color":"#44f0"},{"offset":0.1875,"color":"#44f0"},{"offset":0.1875,"color":"#44f"},{"offset":0.19140625,"color":"#44f"},{"offset":0.19140625,"color":"#44f0"},{"offset":0.203125,"color":"#44f0"},{"offset":0.203125,"color":"#44f"},{"offset":0.20703125,"color":"#44f"},{"offset":0.20703125,"color":"#44f0"},{"offset":0.21875,"color":"#44f0"},{"offset":0.21875,"color":"#44f"},{"offset":0.22265625,"color":"#44f"},{"offset":0.22265625,"color":"#44f0"},{"offset":0.234375,"color":"#44f0"},{"offset":0.234375,"color":"#44f"},{"offset":0.23828125,"color":"#44f"},{"offset":0.23828125,"color":"#44f0"},{"offset":0.25,"color":"#44f0"},{"offset":0.25,"color":"#44f"},{"offset":0.25390625,"color":"#44f"},{"offset":0.25390625,"color":"#44f0"},{"offset":0.265625,"color":"#44f0"},{"offset":0.265625,"color":"#44f"},{"offset":0.26953125,"color":"#44f"},{"offset":0.26953125,"color":"#44f0"},{"offset":0.28125,"color":"#44f0"},{"offset":0.28125,"color":"#44f"},{"offset":0.28515625,"color":"#44f"},{"offset":0.28515625,"color":"#44f0"},{"offset":0.296875,"color":"#44f0"},{"offset":0.296875,"color":"#44f"},{"offset":0.30078125,"color":"#44f"},{"offset":0.30078125,"color":"#44f0"},{"offset":0.3125,"color":"#44f0"},{"offset":0.3125,"color":"#44f"},{"offset":0.31640625,"color":"#44f"},{"offset":0.31640625,"color":"#44f0"},{"offset":0.328125,"color":"#44f0"},{"offset":0.328125,"color":"#44f"},{"offset":0.33203125,"color":"#44f"},{"offset":0.33203125,"color":"#44f0"},{"offset":0.34375,"color":"#44f0"},{"offset":0.34375,"color":"#44f"},{"offset":0.34765625,"color":"#44f"},{"offset":0.34765625,"color":"#44f0"},{"offset":0.359375,"color":"#44f0"},{"offset":0.359375,"color":"#44f"},{"offset":0.36328125,"color":"#44f"},{"offset":0.36328125,"color":"#44f0"},{"offset":0.375,"color":"#44f0"},{"offset":0.375,"color":"#44f"},{"offset":0.37890625,"color":"#44f"},{"offset":0.37890625,"color":"#44f0"},{"offset":0.390625,"color":"#44f0"},{"offset":0.390625,"color":"#44f"},{"offset":0.39453125,"color":"#44f"},{"offset":0.39453125,"color":"#44f0"},{"offset":0.40625,"color":"#44f0"},{"offset":0.40625,"color":"#44f"},{"offset":0.41015625,"color":"#44f"},{"offset":0.41015625,"color":"#44f0"},{"offset":0.421875,"color":"#44f0"},{"offset":0.421875,"color":"#44f"},{"offset":0.42578125,"color":"#44f"},{"offset":0.42578125,"color":"#44f0"},{"offset":0.4375,"color":"#44f0"},{"offset":0.4375,"color":"#44f"},{"offset":0.44140625,"color":"#44f"},{"offset":0.44140625,"color":"#44f0"},{"offset":0.453125,"color":"#44f0"},{"offset":0.453125,"color":"#44f"},{"offset":0.45703125,"color":"#44f"},{"offset":0.45703125,"color":"#44f0"},{"offset":0.46875,"color":"#44f0"},{"offset":0.46875,"color":"#44f"},{"offset":0.47265625,"color":"#44f"},{"offset":0.47265625,"color":"#44f0"},{"offset":0.484375,"color":"#44f0"},{"offset":0.484375,"color":"#44f"},{"offset":0.48828125,"color":"#44f"},{"offset":0.48828125,"color":"#44f0"},{"offset":0.5,"color":"#44f0"},{"offset":0.5,"color":"#44f"},{"offset":0.50390625,"color":"#44f"},{"offset":0.50390625,"color":"#44f0"},{"offset":0.515625,"color":"#44f0"},{"offset":0.515625,"color":"#44f"},{"offset":0.51953125,"color":"#44f"},{"offset":0.51953125,"color":"#44f0"},{"offset":0.53125,"color":"#44f0"},{"offset":0.53125,"color":"#44f"},{"offset":0.53515625,"color":"#44f"},{"offset":0.53515625,"color":"#44f0"},{"offset":0.546875,"color":"#44f0"},{"offset":0.546875,"color":"#44f"},{"offset":0.55078125,"color":"#44f"},{"offset":0.55078125,"color":"#44f0"},{"offset":0.5625,"color":"#44f0"},{"offset":0.5625,"color":"#44f"},{"offset":0.56640625,"color":"#44f"},{"offset":0.56640625,"color":"#44f0"},{"offset":0.578125,"color":"#44f0"},{"offset":0.578125,"color":"#44f"},{"offset":0.58203125,"color":"#44f"},{"offset":0.58203125,"color":"#44f0"},{"offset":0.59375,"color":"#44f0"},{"offset":0.59375,"color":"#44f"},{"offset":0.59765625,"color":"#44f"},{"offset":0.59765625,"color":"#44f0"},{"offset":0.609375,"color":"#44f0"},{"offset":0.609375,"color":"#44f"},{"offset":0.61328125,"color":"#44f"},{"offset":0.61328125,"color":"#44f0"},{"offset":0.625,"color":"#44f0"},{"offset":0.625,"color":"#44f"},{"offset":0.62890625,"color":"#44f"},{"offset":0.62890625,"color":"#44f0"},{"offset":0.640625,"color":"#44f0"},{"offset":0.640625,"color":"#44f"},{"offset":0.64453125,"color":"#44f"},{"offset":0.64453125,"color":"#44f0"},{"offset":0.65625,"color":"#44f0"},{"offset":0.65625,"color":"#44f"},{"offset":0.66015625,"color":"#44f"},{"offset":0.66015625,"color":"#44f0"},{"offset":0.671875,"color":"#44f0"},{"offset":0.671875,"color":"#44f"},{"offset":0.67578125,"color":"#44f"},{"offset":0.67578125,"color":"#44f0"},{"offset":0.6875,"color":"#44f0"},{"offset":0.6875,"color":"#44f"},{"offset":0.69140625,"color":"#44f"},{"offset":0.69140625,"color":"#44f0"},{"offset":0.703125,"color":"#44f0"},{"offset":0.703125,"color":"#44f"},{"offset":0.70703125,"color":"#44f"},{"offset":0.70703125,"color":"#44f0"},{"offset":0.71875,"color":"#44f0"},{"offset":0.71875,"color":"#44f"},{"offset":0.72265625,"color":"#44f"},{"offset":0.72265625,"color":"#44f0"},{"offset":0.734375,"color":"#44f0"},{"offset":0.734375,"color":"#44f"},{"offset":0.73828125,"color":"#44f"},{"offset":0.73828125,"color":"#44f0"},{"offset":0.75,"color":"#44f0"},{"offset":0.75,"color":"#44f"},{"offset":0.75390625,"color":"#44f"},{"offset":0.75390625,"color":"#44f0"},{"offset":0.765625,"color":"#44f0"},{"offset":0.765625,"color":"#44f"},{"offset":0.76953125,"color":"#44f"},{"offset":0.76953125,"color":"#44f0"},{"offset":0.78125,"color":"#44f0"},{"offset":0.78125,"color":"#44f"},{"offset":0.78515625,"color":"#44f"},{"offset":0.78515625,"color":"#44f0"},{"offset":0.796875,"color":"#44f0"},{"offset":0.796875,"color":"#44f"},{"offset":0.80078125,"color":"#44f"},{"offset":0.80078125,"color":"#44f0"},{"offset":0.8125,"color":"#44f0"},{"offset":0.8125,"color":"#44f"},{"offset":0.81640625,"color":"#44f"},{"offset":0.81640625,"color":"#44f0"},{"offset":0.828125,"color":"#44f0"},{"offset":0.828125,"color":"#44f"},{"offset":0.83203125,"color":"#44f"},{"offset":0.83203125,"color":"#44f0"},{"offset":0.84375,"color":"#44f0"},{"offset":0.84375,"color":"#44f"},{"offset":0.84765625,"color":"#44f"},{"offset":0.84765625,"color":"#44f0"},{"offset":0.859375,"color":"#44f0"},{"offset":0.859375,"color":"#44f"},{"offset":0.86328125,"color":"#44f"},{"offset":0.86328125,"color":"#44f0"},{"offset":0.875,"color":"#44f0"},{"offset":0.875,"color":"#44f"},{"offset":0.87890625,"color":"#44f"},{"offset":0.87890625,"color":"#44f0"},{"offset":0.890625,"color":"#44f0"},{"offset":0.890625,"color":"#44f"},{"offset":0.89453125,"color":"#44f"},{"offset":0.89453125,"color":"#44f0"},{"offset":0.90625,"color":"#44f0"},{"offset":0.90625,"color":"#44f"},{"offset":0.91015625,"color":"#44f"},{"offset":0.91015625,"color":"#44f0"},{"offset":0.921875,"color":"#44f0"},{"offset":0.921875,"color":"#44f"},{"offset":0.92578125,"color":"#44f"},{"offset":0.92578125,"color":"#44f0"},{"offset":0.9375,"color":"#44f0"},{"offset":0.9375,"color":"#44f"},{"offset":0.94140625,"color":"#44f"},{"offset":0.94140625,"color":"#44f0"},{"offset":0.953125,"color":"#44f0"},{"offset":0.953125,"color":"#44f"},{"offset":0.95703125,"color":"#44f"},{"offset":0.95703125,"color":"#44f0"},{"offset":0.96875,"color":"#44f0"},{"offset":0.96875,"color":"#44f"},{"offset":0.97265625,"color":"#44f"},{"offset":0.97265625,"color":"#44f0"},{"offset":0.984375,"color":"#44f0"},{"offset":0.984375,"color":"#44f"},{"offset":0.98828125,"color":"#44f"},{"offset":0.98828125,"color":"#44f0"},{"offset":1,"color":"#44f0"}]}},
        "encoding":{
         "x":{"field":"ex","type":"quantitative","scale":{"domain":[-1,1],"nice":false,"zero":false},
              "axis":{"orient":"top","values":[-1,-0.5,0,0.5,1],"labels":false,"title":null,"tickSize":-11}},
         "y":{"field":"bminus","type":"quantitative","stack":null,"scale":{"domain":[0,0.2],"nice":false},
              "axis":{"orient":"right","values":[0,0.02,0.04,0.06,0.08,0.1,0.12,0.14,0.16,0.18,0.2],
               "title":"1/N dN(J/ψK±)/dQμ","titleAngle":-90,"titleAnchor":"end","titleAlign":"right","titleBaseline":"top","titleFontSize":13,"titleColor":"red","titlePadding":1,
               "labelColor":"red","labelFontSize":13,"labelPadding":14,"domainColor":"red","tickColor":"red","tickSize":-11,
               "labelExpr":"format(datum.value,'~g')"}}
        }},
       {"mark":{"type":"area","opacity":1,"fill":{"gradient":"linear","x1":0,"y1":0,"x2":1.0792,"y2":0.9057,"stops":[{"offset":0,"color":"#f44"},{"offset":0.00390625,"color":"#f44"},{"offset":0.00390625,"color":"#f440"},{"offset":0.015625,"color":"#f440"},{"offset":0.015625,"color":"#f44"},{"offset":0.01953125,"color":"#f44"},{"offset":0.01953125,"color":"#f440"},{"offset":0.03125,"color":"#f440"},{"offset":0.03125,"color":"#f44"},{"offset":0.03515625,"color":"#f44"},{"offset":0.03515625,"color":"#f440"},{"offset":0.046875,"color":"#f440"},{"offset":0.046875,"color":"#f44"},{"offset":0.05078125,"color":"#f44"},{"offset":0.05078125,"color":"#f440"},{"offset":0.0625,"color":"#f440"},{"offset":0.0625,"color":"#f44"},{"offset":0.06640625,"color":"#f44"},{"offset":0.06640625,"color":"#f440"},{"offset":0.078125,"color":"#f440"},{"offset":0.078125,"color":"#f44"},{"offset":0.08203125,"color":"#f44"},{"offset":0.08203125,"color":"#f440"},{"offset":0.09375,"color":"#f440"},{"offset":0.09375,"color":"#f44"},{"offset":0.09765625,"color":"#f44"},{"offset":0.09765625,"color":"#f440"},{"offset":0.109375,"color":"#f440"},{"offset":0.109375,"color":"#f44"},{"offset":0.11328125,"color":"#f44"},{"offset":0.11328125,"color":"#f440"},{"offset":0.125,"color":"#f440"},{"offset":0.125,"color":"#f44"},{"offset":0.12890625,"color":"#f44"},{"offset":0.12890625,"color":"#f440"},{"offset":0.140625,"color":"#f440"},{"offset":0.140625,"color":"#f44"},{"offset":0.14453125,"color":"#f44"},{"offset":0.14453125,"color":"#f440"},{"offset":0.15625,"color":"#f440"},{"offset":0.15625,"color":"#f44"},{"offset":0.16015625,"color":"#f44"},{"offset":0.16015625,"color":"#f440"},{"offset":0.171875,"color":"#f440"},{"offset":0.171875,"color":"#f44"},{"offset":0.17578125,"color":"#f44"},{"offset":0.17578125,"color":"#f440"},{"offset":0.1875,"color":"#f440"},{"offset":0.1875,"color":"#f44"},{"offset":0.19140625,"color":"#f44"},{"offset":0.19140625,"color":"#f440"},{"offset":0.203125,"color":"#f440"},{"offset":0.203125,"color":"#f44"},{"offset":0.20703125,"color":"#f44"},{"offset":0.20703125,"color":"#f440"},{"offset":0.21875,"color":"#f440"},{"offset":0.21875,"color":"#f44"},{"offset":0.22265625,"color":"#f44"},{"offset":0.22265625,"color":"#f440"},{"offset":0.234375,"color":"#f440"},{"offset":0.234375,"color":"#f44"},{"offset":0.23828125,"color":"#f44"},{"offset":0.23828125,"color":"#f440"},{"offset":0.25,"color":"#f440"},{"offset":0.25,"color":"#f44"},{"offset":0.25390625,"color":"#f44"},{"offset":0.25390625,"color":"#f440"},{"offset":0.265625,"color":"#f440"},{"offset":0.265625,"color":"#f44"},{"offset":0.26953125,"color":"#f44"},{"offset":0.26953125,"color":"#f440"},{"offset":0.28125,"color":"#f440"},{"offset":0.28125,"color":"#f44"},{"offset":0.28515625,"color":"#f44"},{"offset":0.28515625,"color":"#f440"},{"offset":0.296875,"color":"#f440"},{"offset":0.296875,"color":"#f44"},{"offset":0.30078125,"color":"#f44"},{"offset":0.30078125,"color":"#f440"},{"offset":0.3125,"color":"#f440"},{"offset":0.3125,"color":"#f44"},{"offset":0.31640625,"color":"#f44"},{"offset":0.31640625,"color":"#f440"},{"offset":0.328125,"color":"#f440"},{"offset":0.328125,"color":"#f44"},{"offset":0.33203125,"color":"#f44"},{"offset":0.33203125,"color":"#f440"},{"offset":0.34375,"color":"#f440"},{"offset":0.34375,"color":"#f44"},{"offset":0.34765625,"color":"#f44"},{"offset":0.34765625,"color":"#f440"},{"offset":0.359375,"color":"#f440"},{"offset":0.359375,"color":"#f44"},{"offset":0.36328125,"color":"#f44"},{"offset":0.36328125,"color":"#f440"},{"offset":0.375,"color":"#f440"},{"offset":0.375,"color":"#f44"},{"offset":0.37890625,"color":"#f44"},{"offset":0.37890625,"color":"#f440"},{"offset":0.390625,"color":"#f440"},{"offset":0.390625,"color":"#f44"},{"offset":0.39453125,"color":"#f44"},{"offset":0.39453125,"color":"#f440"},{"offset":0.40625,"color":"#f440"},{"offset":0.40625,"color":"#f44"},{"offset":0.41015625,"color":"#f44"},{"offset":0.41015625,"color":"#f440"},{"offset":0.421875,"color":"#f440"},{"offset":0.421875,"color":"#f44"},{"offset":0.42578125,"color":"#f44"},{"offset":0.42578125,"color":"#f440"},{"offset":0.4375,"color":"#f440"},{"offset":0.4375,"color":"#f44"},{"offset":0.44140625,"color":"#f44"},{"offset":0.44140625,"color":"#f440"},{"offset":0.453125,"color":"#f440"},{"offset":0.453125,"color":"#f44"},{"offset":0.45703125,"color":"#f44"},{"offset":0.45703125,"color":"#f440"},{"offset":0.46875,"color":"#f440"},{"offset":0.46875,"color":"#f44"},{"offset":0.47265625,"color":"#f44"},{"offset":0.47265625,"color":"#f440"},{"offset":0.484375,"color":"#f440"},{"offset":0.484375,"color":"#f44"},{"offset":0.48828125,"color":"#f44"},{"offset":0.48828125,"color":"#f440"},{"offset":0.5,"color":"#f440"},{"offset":0.5,"color":"#f44"},{"offset":0.50390625,"color":"#f44"},{"offset":0.50390625,"color":"#f440"},{"offset":0.515625,"color":"#f440"},{"offset":0.515625,"color":"#f44"},{"offset":0.51953125,"color":"#f44"},{"offset":0.51953125,"color":"#f440"},{"offset":0.53125,"color":"#f440"},{"offset":0.53125,"color":"#f44"},{"offset":0.53515625,"color":"#f44"},{"offset":0.53515625,"color":"#f440"},{"offset":0.546875,"color":"#f440"},{"offset":0.546875,"color":"#f44"},{"offset":0.55078125,"color":"#f44"},{"offset":0.55078125,"color":"#f440"},{"offset":0.5625,"color":"#f440"},{"offset":0.5625,"color":"#f44"},{"offset":0.56640625,"color":"#f44"},{"offset":0.56640625,"color":"#f440"},{"offset":0.578125,"color":"#f440"},{"offset":0.578125,"color":"#f44"},{"offset":0.58203125,"color":"#f44"},{"offset":0.58203125,"color":"#f440"},{"offset":0.59375,"color":"#f440"},{"offset":0.59375,"color":"#f44"},{"offset":0.59765625,"color":"#f44"},{"offset":0.59765625,"color":"#f440"},{"offset":0.609375,"color":"#f440"},{"offset":0.609375,"color":"#f44"},{"offset":0.61328125,"color":"#f44"},{"offset":0.61328125,"color":"#f440"},{"offset":0.625,"color":"#f440"},{"offset":0.625,"color":"#f44"},{"offset":0.62890625,"color":"#f44"},{"offset":0.62890625,"color":"#f440"},{"offset":0.640625,"color":"#f440"},{"offset":0.640625,"color":"#f44"},{"offset":0.64453125,"color":"#f44"},{"offset":0.64453125,"color":"#f440"},{"offset":0.65625,"color":"#f440"},{"offset":0.65625,"color":"#f44"},{"offset":0.66015625,"color":"#f44"},{"offset":0.66015625,"color":"#f440"},{"offset":0.671875,"color":"#f440"},{"offset":0.671875,"color":"#f44"},{"offset":0.67578125,"color":"#f44"},{"offset":0.67578125,"color":"#f440"},{"offset":0.6875,"color":"#f440"},{"offset":0.6875,"color":"#f44"},{"offset":0.69140625,"color":"#f44"},{"offset":0.69140625,"color":"#f440"},{"offset":0.703125,"color":"#f440"},{"offset":0.703125,"color":"#f44"},{"offset":0.70703125,"color":"#f44"},{"offset":0.70703125,"color":"#f440"},{"offset":0.71875,"color":"#f440"},{"offset":0.71875,"color":"#f44"},{"offset":0.72265625,"color":"#f44"},{"offset":0.72265625,"color":"#f440"},{"offset":0.734375,"color":"#f440"},{"offset":0.734375,"color":"#f44"},{"offset":0.73828125,"color":"#f44"},{"offset":0.73828125,"color":"#f440"},{"offset":0.75,"color":"#f440"},{"offset":0.75,"color":"#f44"},{"offset":0.75390625,"color":"#f44"},{"offset":0.75390625,"color":"#f440"},{"offset":0.765625,"color":"#f440"},{"offset":0.765625,"color":"#f44"},{"offset":0.76953125,"color":"#f44"},{"offset":0.76953125,"color":"#f440"},{"offset":0.78125,"color":"#f440"},{"offset":0.78125,"color":"#f44"},{"offset":0.78515625,"color":"#f44"},{"offset":0.78515625,"color":"#f440"},{"offset":0.796875,"color":"#f440"},{"offset":0.796875,"color":"#f44"},{"offset":0.80078125,"color":"#f44"},{"offset":0.80078125,"color":"#f440"},{"offset":0.8125,"color":"#f440"},{"offset":0.8125,"color":"#f44"},{"offset":0.81640625,"color":"#f44"},{"offset":0.81640625,"color":"#f440"},{"offset":0.828125,"color":"#f440"},{"offset":0.828125,"color":"#f44"},{"offset":0.83203125,"color":"#f44"},{"offset":0.83203125,"color":"#f440"},{"offset":0.84375,"color":"#f440"},{"offset":0.84375,"color":"#f44"},{"offset":0.84765625,"color":"#f44"},{"offset":0.84765625,"color":"#f440"},{"offset":0.859375,"color":"#f440"},{"offset":0.859375,"color":"#f44"},{"offset":0.86328125,"color":"#f44"},{"offset":0.86328125,"color":"#f440"},{"offset":0.875,"color":"#f440"},{"offset":0.875,"color":"#f44"},{"offset":0.87890625,"color":"#f44"},{"offset":0.87890625,"color":"#f440"},{"offset":0.890625,"color":"#f440"},{"offset":0.890625,"color":"#f44"},{"offset":0.89453125,"color":"#f44"},{"offset":0.89453125,"color":"#f440"},{"offset":0.90625,"color":"#f440"},{"offset":0.90625,"color":"#f44"},{"offset":0.91015625,"color":"#f44"},{"offset":0.91015625,"color":"#f440"},{"offset":0.921875,"color":"#f440"},{"offset":0.921875,"color":"#f44"},{"offset":0.92578125,"color":"#f44"},{"offset":0.92578125,"color":"#f440"},{"offset":0.9375,"color":"#f440"},{"offset":0.9375,"color":"#f44"},{"offset":0.94140625,"color":"#f44"},{"offset":0.94140625,"color":"#f440"},{"offset":0.953125,"color":"#f440"},{"offset":0.953125,"color":"#f44"},{"offset":0.95703125,"color":"#f44"},{"offset":0.95703125,"color":"#f440"},{"offset":0.96875,"color":"#f440"},{"offset":0.96875,"color":"#f44"},{"offset":0.97265625,"color":"#f44"},{"offset":0.97265625,"color":"#f440"},{"offset":0.984375,"color":"#f440"},{"offset":0.984375,"color":"#f44"},{"offset":0.98828125,"color":"#f44"},{"offset":0.98828125,"color":"#f440"},{"offset":1,"color":"#f440"}]}},
        "encoding":{
         "x":{"field":"ex","type":"quantitative",
              "axis":{"orient":"top","values":[-1,-0.9,-0.8,-0.7,-0.6,-0.5,-0.4,-0.3,-0.2,-0.1,0,0.1,0.2,0.3,0.4,0.5,0.6,0.7,0.8,0.9,1],"labels":false,"title":null,"domain":false,"tickSize":-5.5}},
         "y":{"field":"bplus","type":"quantitative","stack":null,
              "axis":{"orient":"right","values":[0,0.004,0.008,0.012,0.016,0.02,0.024,0.028,0.032,0.036,0.04,0.044,0.048,0.052,0.056,0.06,0.064,0.068,0.072,0.076,0.08,0.084,0.088,0.092,0.096,0.1,0.104,0.108,0.112,0.116,0.12,0.124,0.128,0.132,0.136,0.14,0.144,0.148,0.152,0.156,0.16,0.164,0.168,0.172,0.176,0.18,0.184,0.188,0.192,0.196,0.2],"labels":false,"title":null,"domain":false,"tickColor":"red","tickSize":-5.5}}
        }},
       {"mark":{"type":"line","stroke":"red","strokeWidth":2},
        "encoding":{"x":{"field":"ex","type":"quantitative","axis":null},"y":{"field":"bplus","type":"quantitative","axis":null}}},
       {"mark":{"type":"line","stroke":"blue","strokeWidth":2},
        "encoding":{"x":{"field":"ex","type":"quantitative","axis":null},"y":{"field":"bminus","type":"quantitative","axis":null}}}
      ]
     },
     {
      "resolve":{"axis":{"x":"independent","y":"independent"}},
      "layer":[
       {"data":{"name":"fit"},"mark":{"type":"line","color":"black","strokeWidth":2.5,"interpolate":"monotone"},
        "encoding":{
         "x":{"field":"q","type":"quantitative","scale":{"domain":[-1,1],"nice":false,"zero":false},
              "axis":{"orient":"bottom","values":[-1,-0.5,0,0.5,1],
               "title":"-Qμ","titleAnchor":"end","titleAlign":"right","titlePadding":12,"labelPadding":15,"tickSize":-11,
               "labelExpr":"format(datum.value,'~g')"}},
         "y":{"field":"f","type":"quantitative","scale":{"domain":[0,1],"nice":false},
              "axis":{"orient":"left","values":[0,0.1,0.2,0.3,0.4,0.5,0.6,0.7,0.8,0.9,1],
               "title":"P(B|Qμ)","titleAnchor":"end","titleAlign":"right","titlePadding":26,"labelPadding":16,"tickSize":-11,
               "labelExpr":"format(datum.value,'~g')"}}
        }},
       {"data":{"name":"rightBins"},"mark":{"type":"circle","color":"black","size":36,"opacity":1},
        "encoding":{
         "x":{"field":"x","type":"quantitative",
              "axis":{"orient":"bottom","values":[-1,-0.9,-0.8,-0.7,-0.6,-0.5,-0.4,-0.3,-0.2,-0.1,0,0.1,0.2,0.3,0.4,0.5,0.6,0.7,0.8,0.9,1],"labels":false,"title":null,"domain":false,"tickSize":-5.5}},
         "y":{"field":"p","type":"quantitative",
              "axis":{"orient":"left","values":[0,0.02,0.04,0.06,0.08,0.1,0.12,0.14,0.16,0.18,0.2,0.22,0.24,0.26,0.28,0.3,0.32,0.34,0.36,0.38,0.4,0.42,0.44,0.46,0.48,0.5,0.52,0.54,0.56,0.58,0.6,0.62,0.64,0.66,0.68,0.7,0.72,0.74,0.76,0.78,0.8,0.82,0.84,0.86,0.88,0.9,0.92,0.94,0.96,0.98,1],"labels":false,"title":null,"domain":false,"tickSize":-5.5}}
        }},
       {"data":{"values":[{"t":"ATLAS"}]},"mark":{"type":"text","align":"left","baseline":"alphabetic","fontSize":17,"fontWeight":"bold","fontStyle":"italic"},
        "encoding":{"x":{"datum":-0.883,"axis":null},"y":{"datum":0.913,"axis":null},"text":{"field":"t"}}},
       {"data":{"values":[{"t":"√s=13 TeV, 80.5 fb⁻¹"}]},"mark":{"type":"text","align":"left","baseline":"alphabetic","fontSize":17},
        "encoding":{"x":{"datum":-0.883,"axis":null},"y":{"datum":0.837,"axis":null},"text":{"field":"t"}}},
       {"data":{"values":[{"t":"Tight muons"}]},"mark":{"type":"text","align":"left","baseline":"alphabetic","fontSize":17},
        "encoding":{"x":{"datum":0.281,"axis":null},"y":{"datum":0.837,"axis":null},"text":{"field":"t"}}},
       {"data":{"values":[{"t":"Data"}]},
        "layer":[
         {"mark":{"type":"rule","color":"black","strokeWidth":2},"encoding":{"x":{"datum":-0.779,"axis":null},"y":{"datum":0.791,"axis":null},"y2":{"datum":0.744}}},
         {"mark":{"type":"circle","color":"black","size":36,"opacity":1},"encoding":{"x":{"datum":-0.779,"axis":null},"y":{"datum":0.768,"axis":null}}},
         {"mark":{"type":"text","align":"left","baseline":"alphabetic","fontSize":20},"encoding":{"x":{"datum":-0.67,"axis":null},"y":{"datum":0.749,"axis":null},"text":{"field":"t"}}}
        ]},
       {"data":{"values":[{"t":"B⁺→J/ψK⁺"}]},
        "layer":[
         {"mark":{"type":"rect","stroke":"red","strokeWidth":2,"fill":{"gradient":"linear","x1":0,"y1":0,"x2":0.8218,"y2":1.1297,"stops":[{"offset":0,"color":"#f44"},{"offset":0.0357,"color":"#f44"},{"offset":0.0357,"color":"#f440"},{"offset":0.1429,"color":"#f440"},{"offset":0.1429,"color":"#f44"},{"offset":0.1786,"color":"#f44"},{"offset":0.1786,"color":"#f440"},{"offset":0.2857,"color":"#f440"},{"offset":0.2857,"color":"#f44"},{"offset":0.3214,"color":"#f44"},{"offset":0.3214,"color":"#f440"},{"offset":0.4286,"color":"#f440"},{"offset":0.4286,"color":"#f44"},{"offset":0.4643,"color":"#f44"},{"offset":0.4643,"color":"#f440"},{"offset":0.5714,"color":"#f440"},{"offset":0.5714,"color":"#f44"},{"offset":0.6071,"color":"#f44"},{"offset":0.6071,"color":"#f440"},{"offset":0.7143,"color":"#f440"},{"offset":0.7143,"color":"#f44"},{"offset":0.75,"color":"#f44"},{"offset":0.75,"color":"#f440"},{"offset":0.8571,"color":"#f440"},{"offset":0.8571,"color":"#f44"},{"offset":0.8929,"color":"#f44"},{"offset":0.8929,"color":"#f440"},{"offset":1,"color":"#f440"}]}},
          "encoding":{"x":{"datum":-0.859,"axis":null},"x2":{"datum":-0.707},"y":{"datum":0.715,"axis":null},"y2":{"datum":0.656}}},
         {"mark":{"type":"text","align":"left","baseline":"alphabetic","fontSize":20},"encoding":{"x":{"datum":-0.67,"axis":null},"y":{"datum":0.664,"axis":null},"text":{"field":"t"}}}
        ]},
       {"data":{"values":[{"t":"B⁻→J/ψK⁻"}]},
        "layer":[
         {"mark":{"type":"rect","stroke":"blue","strokeWidth":2,"fill":{"gradient":"linear","x1":1,"y1":0,"x2":0.1782,"y2":1.1297,"stops":[{"offset":0,"color":"#44f"},{"offset":0.0357,"color":"#44f"},{"offset":0.0357,"color":"#44f0"},{"offset":0.1429,"color":"#44f0"},{"offset":0.1429,"color":"#44f"},{"offset":0.1786,"color":"#44f"},{"offset":0.1786,"color":"#44f0"},{"offset":0.2857,"color":"#44f0"},{"offset":0.2857,"color":"#44f"},{"offset":0.3214,"color":"#44f"},{"offset":0.3214,"color":"#44f0"},{"offset":0.4286,"color":"#44f0"},{"offset":0.4286,"color":"#44f"},{"offset":0.4643,"color":"#44f"},{"offset":0.4643,"color":"#44f0"},{"offset":0.5714,"color":"#44f0"},{"offset":0.5714,"color":"#44f"},{"offset":0.6071,"color":"#44f"},{"offset":0.6071,"color":"#44f0"},{"offset":0.7143,"color":"#44f0"},{"offset":0.7143,"color":"#44f"},{"offset":0.75,"color":"#44f"},{"offset":0.75,"color":"#44f0"},{"offset":0.8571,"color":"#44f0"},{"offset":0.8571,"color":"#44f"},{"offset":0.8929,"color":"#44f"},{"offset":0.8929,"color":"#44f0"},{"offset":1,"color":"#44f0"}]}},
          "encoding":{"x":{"datum":-0.859,"axis":null},"x2":{"datum":-0.707},"y":{"datum":0.631,"axis":null},"y2":{"datum":0.571}}},
         {"mark":{"type":"text","align":"left","baseline":"alphabetic","fontSize":20},"encoding":{"x":{"datum":-0.67,"axis":null},"y":{"datum":0.58,"axis":null},"text":{"field":"t"}}}
        ]}
      ]
     }
    ]
   }
  ]
 }
]
}
